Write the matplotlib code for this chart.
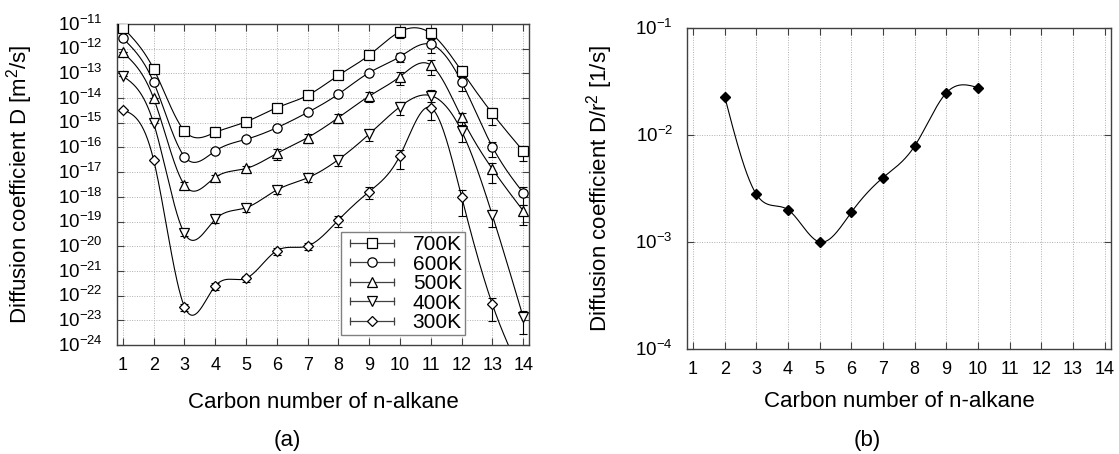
import numpy as np
import matplotlib
matplotlib.use("Agg")
import matplotlib.pyplot as plt
from matplotlib.lines import Line2D
from matplotlib.legend_handler import HandlerTuple, HandlerLine2D
from matplotlib.ticker import LogFormatterMathtext, NullLocator
from matplotlib.transforms import ScaledTranslation

plt.rcParams.update({
    "font.family": "Liberation Sans",
    "mathtext.fontset": "custom",
    "mathtext.rm": "Liberation Sans",
    "mathtext.it": "Liberation Sans:italic",
    "mathtext.bf": "Liberation Sans:bold",
})

carbon = [1, 2, 3, 4, 5, 6, 7, 8, 9, 10, 11, 12, 13, 14]

# log10 of D [m^2/s]
logD_700 = [-11.15, -12.82, -15.33, -15.39, -14.96, -14.39, -13.89, -13.08, -12.26, -11.31, -11.38, -12.90, -14.62, -16.14]
logD_600 = [-11.58, -13.36, -16.37, -16.14, -15.67, -15.20, -14.58, -13.84, -12.97, -12.32, -11.82, -13.34, -15.97, -17.83]
logD_500 = [-12.15, -14.01, -17.52, -17.21, -16.85, -16.24, -15.60, -14.79, -13.92, -13.13, -12.66, -14.78, -16.87, -18.56]
logD_400 = [-13.11, -15.02, -19.48, -18.91, -18.44, -17.72, -17.23, -16.49, -15.46, -14.35, -13.90, -15.33, -18.74, -22.86]
logD_300 = [-14.48, -16.51, -22.45, -21.61, -21.30, -20.18, -19.99, -18.94, -17.79, -16.33, -14.39, -17.99, -22.35, -25.30]

# relative errors (sigma / D)
err_700 = [0, 0, 0, 0, 0, 0, 0, 0, 0.1, 0.42, 0.1, 0.1, 0.66, 0.60]
err_600 = [0, 0, 0, 0, 0, 0, 0, 0.2, 0.2, 0.42, 0.57, 0.58, 0.60, 0.68]
err_500 = [0, 0, 0.3, 0.3, 0.3, 0.45, 0.4, 0.4, 0.43, 0.54, 0.60, 0.5, 0.73, 0.74]
err_400 = [0, 0, 0.2, 0.3, 0.3, 0.3, 0.3, 0.43, 0.46, 0.55, 0.70, 0.63, 0.66, 0.80]
err_300 = [0, 0, 0.3, 0.3, 0.3, 0.3, 0.3, 0.5, 0.5, 0.71, 0.68, 0.84, 0.79, 0.80]

temps = ["700K", "600K", "500K", "400K", "300K"]
markers = ["s", "o", "^", "v", "D"]
msizes = [6.7, 6.7, 7.2, 7.2, 5.0]

# panel (b): D/r^2 [1/s]
carbon_b = [2, 3, 4, 5, 6, 7, 8, 9, 10]
D_r2 = [0.0228, 0.00279, 0.0020, 0.0010, 0.0019, 0.0040, 0.0079, 0.0248, 0.0277]


def natural_spline(x, y, xs):
    x = np.asarray(x, float)
    y = np.asarray(y, float)
    n = len(x)
    h = np.diff(x)
    A = np.zeros((n, n))
    b = np.zeros(n)
    A[0, 0] = A[-1, -1] = 1
    for i in range(1, n - 1):
        A[i, i - 1] = h[i - 1]
        A[i, i] = 2 * (h[i - 1] + h[i])
        A[i, i + 1] = h[i]
        b[i] = 3 * ((y[i + 1] - y[i]) / h[i] - (y[i] - y[i - 1]) / h[i - 1])
    c = np.linalg.solve(A, b)
    bb = np.diff(y) / h - h * (2 * c[:-1] + c[1:]) / 3
    d = np.diff(c) / (3 * h)
    idx = np.clip(np.searchsorted(x, xs) - 1, 0, n - 2)
    dx = xs - x[idx]
    return y[idx] + bb[idx] * dx + c[idx] * dx ** 2 + d[idx] * dx ** 3


def style_axes(ax, lo, hi):
    ax.set_xlim(0.8, 14.2)
    ax.set_xticks(carbon)
    ax.set_yscale("log")
    ax.set_ylim(10.0 ** lo, 10.0 ** hi)
    ax.set_yticks(10.0 ** np.arange(lo, hi + 1))
    ax.yaxis.set_major_formatter(LogFormatterMathtext())
    ax.yaxis.set_minor_locator(NullLocator())
    ax.tick_params(which="both", direction="in", top=True, right=True,
                   length=5, width=0.8, color="#404040")
    ax.tick_params(axis="y", pad=10, labelsize=13.5)
    ax.tick_params(axis="x", pad=9, labelsize=13)
    ax.grid(True, color="#b0b0b0", linestyle=(0, (1, 1.5)), linewidth=0.7)
    for s in ax.spines.values():
        s.set_color("#404040")
        s.set_linewidth(1.0)
    # centre the "10" on the tick, like gnuplot does
    shift = ScaledTranslation(0, -4.8 / 72, fig.dpi_scale_trans)
    for lab in ax.get_yticklabels():
        lab.set_va("baseline")
        lab.set_transform(lab.get_transform() + shift)


fig = plt.figure(figsize=(11.19, 4.54), dpi=100)
ax1 = fig.add_axes([0.1043, 0.2401, 0.3687, 0.7070])
ax2 = fig.add_axes([0.6137, 0.2313, 0.3792, 0.7070])

xs = np.linspace(1, 14, 600)
series = [logD_700, logD_600, logD_500, logD_400, logD_300]
errs = [err_700, err_600, err_500, err_400, err_300]

handles = []
hmap = {tuple: HandlerTuple(ndivide=1, pad=0)}
for logD, err, m, ms, lab in zip(series, errs, markers, msizes, temps):
    D = 10 ** np.array(logD)
    r = np.array(err)
    ax1.plot(xs, 10 ** natural_spline(carbon, logD, xs), color="k", lw=0.8, zorder=2)
    ax1.errorbar(carbon, D, yerr=D * r, fmt="none", ecolor="k", elinewidth=0.8,
                 capsize=2.6, capthick=0.8, zorder=3)
    ax1.plot(carbon, D, ls="none", marker=m, ms=ms, mfc="white", mec="k",
             mew=0.9, zorder=4)
    cap_line = Line2D([], [], color="#404040", lw=0.9, marker="|", ms=6, mew=0.9)
    mk = Line2D([], [], ls="none", marker=m, ms=ms, mfc="white", mec="k", mew=0.9)
    hmap[cap_line] = HandlerLine2D(numpoints=2)
    hmap[mk] = HandlerLine2D(numpoints=1)
    handles.append((cap_line, mk))

style_axes(ax1, -24, -11)
ax1.set_xlabel("Carbon number of n-alkane", fontsize=16)
ax1.set_ylabel("Diffusion coefficient D [m$^2$/s]", fontsize=16)
ax1.xaxis.set_label_coords(0.5, -0.145)
ax1.yaxis.set_label_coords(-0.198, 0.5)

leg = ax1.legend(handles, temps, handler_map=hmap, loc="lower right",
                 bbox_to_anchor=(0.844, 0.031), borderaxespad=0, fontsize=15,
                 handlelength=2.7, handletextpad=0.6, labelspacing=0.02,
                 borderpad=0.15, fancybox=False, framealpha=1)
leg.get_frame().set_edgecolor("#808080")
leg.get_frame().set_linewidth(1.0)

# panel (b)
xb = np.linspace(2, 10, 400)
ax2.plot(xb, 10 ** natural_spline(carbon_b, np.log10(D_r2), xb), color="k", lw=0.8)
ax2.plot(carbon_b, D_r2, ls="none", marker="D", ms=4.8, color="k")
style_axes(ax2, -4, -1)
ax2.set_xlabel("Carbon number of n-alkane", fontsize=16)
ax2.set_ylabel("Diffusion coefficient D/r$^2$ [1/s]", fontsize=16)
ax2.xaxis.set_label_coords(0.5, -0.13)
ax2.yaxis.set_label_coords(-0.169, 0.5)

fig.text(0.257, 0.029, "(a)", fontsize=16, ha="center", va="center")
fig.text(0.775, 0.029, "(b)", fontsize=16, ha="center", va="center")

fig.savefig("out.png", dpi=100)
